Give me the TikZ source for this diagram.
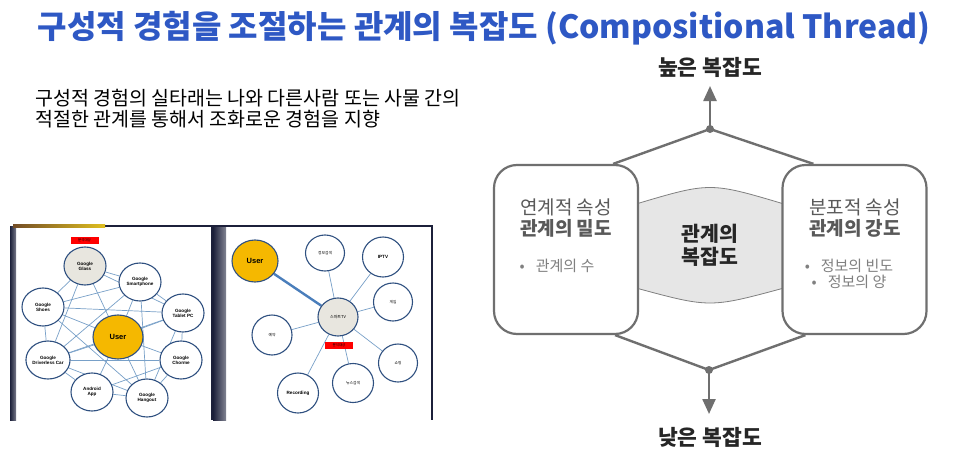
\documentclass[tikz,border=0pt]{standalone}
\usepackage{fontspec}
\setmainfont{Noto Sans CJK KR}
\newfontfamily\arial{Liberation Sans}
\usetikzlibrary{arrows.meta,calc,shapes.geometric}
\definecolor{titleblue}{RGB}{46,88,196}
\definecolor{boxgray}{RGB}{111,111,111}
\definecolor{txtgray}{RGB}{89,89,89}
\definecolor{lightgray}{RGB}{128,128,128}
\definecolor{lensfill}{RGB}{230,230,230}
\definecolor{gold}{RGB}{245,184,0}
\definecolor{navy}{RGB}{47,80,128}
\definecolor{edgeblue}{RGB}{120,160,200}
\definecolor{thickblue}{RGB}{74,126,187}
\definecolor{nodegray}{RGB}{232,230,223}
\definecolor{framedark}{RGB}{28,32,58}
\pgfdeclarelayer{panel}
\pgfdeclarelayer{bg}
\pgfsetlayers{panel,bg,main}
\tikzset{
  bubble/.style={ellipse, draw=navy, line width=1.1pt, fill=white, inner sep=0pt,
    minimum width=42pt, minimum height=38pt, font=\arial\bfseries\fontsize{4.6}{5.2}\selectfont, align=center},
  rbubble/.style={bubble, minimum width=40pt, minimum height=38pt},
  userbub/.style={ellipse, draw=navy, line width=1.1pt, fill=gold, inner sep=0pt, font=\arial\bfseries\fontsize{7.5}{8}\selectfont},
  redtag/.style={fill=red, inner sep=0pt, minimum width=28pt, minimum height=7pt, font=\fontsize{3.5}{4}\selectfont},
  net/.style={draw=edgeblue, line width=0.7pt},
  bigbox/.style={draw=boxgray, line width=2.2pt, fill=white, rounded corners=23pt, minimum width=144pt, minimum height=169pt, inner sep=0pt},
  conn/.style={draw=boxgray, line width=2.4pt},
  uparrow/.style={conn, -{Triangle[width=13pt,length=15pt]}},
  dotmark/.style={circle, fill=boxgray, inner sep=0pt, minimum size=8pt},
  heading/.style={font=\bfseries\fontsize{21.5}{24}\selectfont, text=black!85},
  boxtxt/.style={font=\fontsize{19}{22}\selectfont, text=txtgray, align=center},
  bullettxt/.style={font=\fontsize{15}{18}\selectfont, text=lightgray, align=center}
}
\begin{document}
\begin{tikzpicture}[x=1pt,y=-1pt]
\useasboundingbox (0,0) rectangle (960,452);
\begin{pgfonlayer}{panel}
\fill[white] (0,0) rectangle (960,452);
\end{pgfonlayer}

% Title
\node[font=\bfseries\fontsize{32}{35}\selectfont, text=titleblue] (title) at (484,28) {구성적 경험을 조절하는 관계의 복잡도 (Compositional Thread)};

% Subtitle
\node[font=\fontsize{19.5}{21}\selectfont, align=left, anchor=west, inner sep=0pt] (sub) at (35,108.5)
  {구성적 경험의 실타래는 나와 다른사람 또는 사물 간의\\적절한 관계를 통해서 조화로운 경험을 지향};

% ---------- screenshots ----------
\begin{pgfonlayer}{panel}
\fill[white] (13,225) rectangle (212,420);
\draw[framedark, line width=1.2pt] (13,226) -- (212,226) -- (212,420);
\fill[left color=framedark, right color=framedark!60] (10,226) rectangle (16,420);
\fill[left color=brown!60!black, right color=yellow!50!brown] (13,224.5) rectangle (105,227.5);
\fill[white] (213,225) rectangle (432,420);
\fill[left color=framedark, right color=framedark!55] (213,226) rectangle (226,420);
\draw[framedark, line width=1.2pt] (213,226) -- (432,226) -- (432,420);
\end{pgfonlayer}

\node[bubble, fill=nodegray] (gl) at (85,266) {Google\\Glass};
\node[bubble] (gs) at (140,282) {Google\\Smartphone};
\node[bubble] (gsh) at (43,307) {Google\\Shoes};
\node[bubble] (gt) at (183,313) {Google\\Tablet PC};
\node[userbub, minimum width=50pt, minimum height=44pt] (u1) at (118,337) {User};
\node[bubble] (gd) at (48,360) {Google\\Driverless Car};
\node[bubble] (gc) at (181,360) {Google\\Chorme};
\node[bubble] (ga) at (92,392) {Android\\App};
\node[bubble] (gh) at (147,398) {Google\\Hangout};
\node[redtag] (tag1) at (84.5,240.5) {분석대상};

\begin{pgfonlayer}{bg}
\foreach \a/\b in {gl/gs, gl/gt, gl/u1, gl/gd, gl/gsh, gsh/gs, gsh/gt, gsh/u1, gsh/gd, gsh/gh,
  gs/u1, gs/gt, gs/gh, gs/gd, gt/u1, gt/gc, gt/gd, gt/gh, u1/gc, u1/gh, u1/ga, u1/gd,
  gd/ga, gd/gh, gd/gc, ga/gh, gc/gh, ga/gc}
  \draw[net] (\a) -- (\b);
\end{pgfonlayer}

\node[userbub, minimum width=46pt, minimum height=42pt] (u2) at (255,261) {User};
\node[rbubble, minimum width=39pt, minimum height=36pt, font=\fontsize{3.8}{4.5}\selectfont] (r1) at (325,253) {정보검색};
\node[rbubble, minimum width=41pt, minimum height=40pt] (r2) at (383,257) {IPTV};
\node[rbubble, minimum width=39pt, minimum height=38pt, font=\fontsize{3.8}{4.5}\selectfont] (r3) at (393,302) {게임};
\node[rbubble, fill=nodegray, minimum width=40pt, minimum height=38pt, font=\fontsize{4}{4.5}\selectfont] (tv) at (338,317) {스마트TV};
\node[rbubble, minimum width=40pt, minimum height=40pt, font=\fontsize{3.8}{4.5}\selectfont] (r4) at (272,335) {예약};
\node[rbubble, minimum width=39pt, minimum height=38pt, font=\fontsize{3.8}{4.5}\selectfont] (r5) at (398,363) {쇼핑};
\node[rbubble, minimum width=41pt, minimum height=39pt, font=\fontsize{3.8}{4.5}\selectfont] (r6) at (353,383) {뉴스검색};
\node[rbubble, minimum width=41pt, minimum height=40pt] (r7) at (298,393) {Recording};
\node[redtag] (tag2) at (339,345.5) {분석대상};

\begin{pgfonlayer}{bg}
\foreach \b in {r1,r2,r3,r4,r5,r6,r7}
  \draw[net] (tv) -- (\b);
\draw[draw=thickblue, line width=2.4pt] (u2) -- (tv);
\end{pgfonlayer}

% ---------- right diagram ----------
\fill[lensfill, draw=lightgray, line width=0.8pt]
  (636,204) .. controls (710,182) .. (784,204) -- (784,288)
  .. controls (710,308) .. (636,288) -- cycle;

\node[bigbox] (L) at (566,249.5) {};
\node[bigbox] (R) at (854.5,249.5) {};

\node[font=\bfseries\fontsize{20.5}{23}\selectfont, align=center, text=black!85] (mid) at (710,245) {관계의\\복잡도};

\node[boxtxt] (Lt1) at (566,207) {연계적 속성};
\node[boxtxt, font=\bfseries\fontsize{19}{22}\selectfont] (Lt2) at (566,228) {관계의 밀도};
\node[bullettxt] (Lb1) at (557,266) {•\hspace{11pt}관계의 수};

\node[boxtxt] (Rt1) at (855,207) {분포적 속성};
\node[boxtxt, font=\bfseries\fontsize{19}{22}\selectfont] (Rt2) at (855,228) {관계의 강도};
\node[bullettxt] (Rb1) at (849,266) {•\hspace{11pt}정보의 빈도};
\node[bullettxt] (Rb2) at (849,282) {•\hspace{11pt}정보의 양};

\node[heading] (hi) at (710,67) {높은 복잡도};
\node[heading] (lo) at (710,437) {낮은 복잡도};

\coordinate (tdot) at (710,129);
\coordinate (ttip) at (710,86);
\coordinate (bdot) at (709,370);
\coordinate (btip) at (709,414);
\coordinate (tl) at ($(L.north east)+(-26,0)$);
\coordinate (tr) at ($(R.north west)+(32,0)$);
\coordinate (bl) at ($(L.south east)+(-24,0)$);
\coordinate (br) at ($(R.south west)+(24,0)$);

\draw[conn] (tl) -- (tdot) -- (tr);
\draw[conn] (bl) -- (bdot) -- (br);
\draw[uparrow] (tdot) -- (ttip);
\draw[uparrow] (bdot) -- (btip);
\node[dotmark] (td) at (tdot) {};
\node[dotmark] (bd) at (bdot) {};
\end{tikzpicture}
\end{document}
